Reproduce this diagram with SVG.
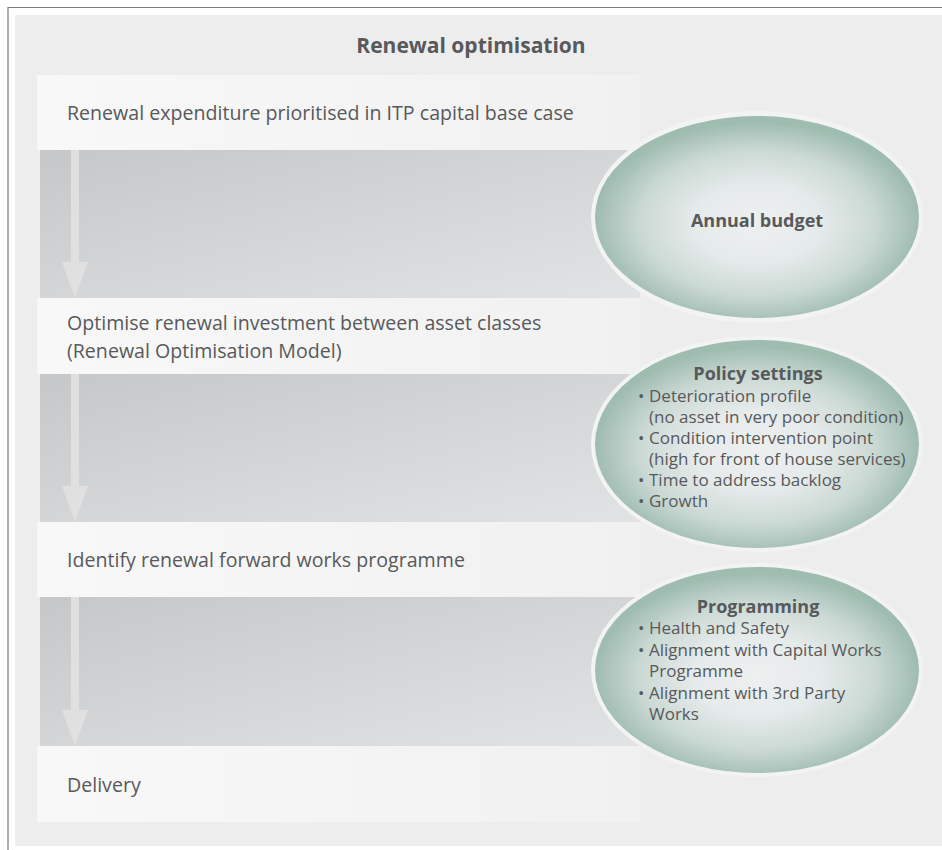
<svg xmlns="http://www.w3.org/2000/svg" width="942" height="850" viewBox="0 0 942 850">
  <defs>
    <linearGradient id="wband" gradientUnits="userSpaceOnUse" x1="37" y1="0" x2="640" y2="0">
      <stop offset="0" stop-color="#f8f8f8"/>
      <stop offset="1" stop-color="#f1f1f1"/>
    </linearGradient>
    <linearGradient id="gband" x1="0" y1="0" x2="1" y2="1">
      <stop offset="0" stop-color="#c6c7c9"/>
      <stop offset="1" stop-color="#e2e3e4"/>
    </linearGradient>
    <radialGradient id="eg" cx="0.5" cy="0.53" r="0.5" fx="0.5" fy="0.53">
      <stop offset="0" stop-color="#eef0f0"/>
      <stop offset="0.4" stop-color="#e5eaea"/>
      <stop offset="0.72" stop-color="#cbd9d4"/>
      <stop offset="1" stop-color="#9fbcb1"/>
    </radialGradient>
    <marker id="head" viewBox="0 0 36 26" refX="0" refY="13" markerWidth="36" markerHeight="26" markerUnits="userSpaceOnUse" orient="auto">
      <path d="M0,0 L36,13 L0,26 Z" fill="#e0e0e0"/>
    </marker>
  </defs>
  <style>
    .t { font-family: "Open Sans", "Liberation Sans", sans-serif; fill: #58595b; }
    .step { font-size: 19.6px; }
    .title { font-size: 21px; font-weight: bold; }
    .lbl { font-size: 18px; font-weight: bold; }
    .bul { font-size: 17px; }
    .wb { fill: url(#wband); }
    .gb { fill: url(#gband); }
    .halo { fill: #f3f3f3; }
    .ell { fill: url(#eg); }
    .arr { stroke: #e0e0e0; stroke-width: 8; fill: none; marker-end: url(#head); }
  </style>

  <rect x="0" y="0" width="942" height="850" fill="#ffffff"/>
  <rect x="15" y="15" width="927" height="831" fill="#ededed"/>
  <path d="M8,850 L8,7.5 L942,7.5" fill="none" stroke="#7a7a7a" stroke-width="1.2"/>

  <g id="title">
    <text class="t title" x="471" y="53" text-anchor="middle">Renewal optimisation</text>
  </g>

  <g id="bands">
    <rect class="gb" x="40" y="150" width="600" height="148"/>
    <rect class="gb" x="40" y="374" width="600" height="148"/>
    <rect class="gb" x="40" y="597" width="600" height="149"/>
  </g>

  <g id="step1">
    <rect class="wb" x="37" y="75" width="603" height="75"/>
    <text class="t step" x="67" y="120">Renewal expenditure prioritised in ITP capital base case</text>
  </g>
  <g id="step2">
    <rect class="wb" x="37" y="298" width="603" height="76"/>
    <text class="t step" x="67" y="330">Optimise renewal investment between asset classes</text>
    <text class="t step" x="67" y="358">(Renewal Optimisation Model)</text>
  </g>
  <g id="step3">
    <rect class="wb" x="37" y="522" width="603" height="75"/>
    <text class="t step" x="67" y="567">Identify renewal forward works programme</text>
  </g>
  <g id="step4">
    <rect class="wb" x="37" y="746" width="603" height="76"/>
    <text class="t step" x="67" y="792">Delivery</text>
  </g>

  <g id="connectors">
    <line class="arr" x1="75" y1="150" x2="75" y2="262"/>
    <line class="arr" x1="75" y1="374" x2="75" y2="486"/>
    <line class="arr" x1="75" y1="597" x2="75" y2="710"/>
  </g>

  <g id="annual-budget">
    <ellipse class="halo" cx="757" cy="217" rx="166" ry="106"/>
    <ellipse class="ell" cx="757" cy="217" rx="162" ry="101"/>
    <text class="t lbl" x="757" y="227" text-anchor="middle">Annual budget</text>
  </g>

  <g id="policy-settings">
    <ellipse class="halo" cx="757" cy="444" rx="166" ry="108"/>
    <ellipse class="ell" cx="757" cy="444" rx="162" ry="104"/>
    <text class="t lbl" x="758" y="380" text-anchor="middle">Policy settings</text>
    <text class="t bul"><tspan x="638" y="402">•</tspan><tspan x="649" y="402">Deterioration profile</tspan></text>
    <text class="t bul" x="649" y="423">(no asset in very poor condition)</text>
    <text class="t bul"><tspan x="638" y="444">•</tspan><tspan x="649" y="444">Condition intervention point</tspan></text>
    <text class="t bul" x="649" y="465">(high for front of house services)</text>
    <text class="t bul"><tspan x="638" y="486">•</tspan><tspan x="649" y="486">Time to address backlog</tspan></text>
    <text class="t bul"><tspan x="638" y="507">•</tspan><tspan x="649" y="507">Growth</tspan></text>
  </g>

  <g id="programming">
    <ellipse class="halo" cx="757" cy="670" rx="166" ry="107"/>
    <ellipse class="ell" cx="757" cy="670" rx="162" ry="103"/>
    <text class="t lbl" x="758" y="613" text-anchor="middle">Programming</text>
    <text class="t bul"><tspan x="638" y="634">•</tspan><tspan x="649" y="634">Health and Safety</tspan></text>
    <text class="t bul"><tspan x="638" y="656">•</tspan><tspan x="649" y="656">Alignment with Capital Works</tspan></text>
    <text class="t bul" x="649" y="677">Programme</text>
    <text class="t bul"><tspan x="638" y="699">•</tspan><tspan x="649" y="699">Alignment with 3rd Party</tspan></text>
    <text class="t bul" x="649" y="720">Works</text>
  </g>
</svg>
